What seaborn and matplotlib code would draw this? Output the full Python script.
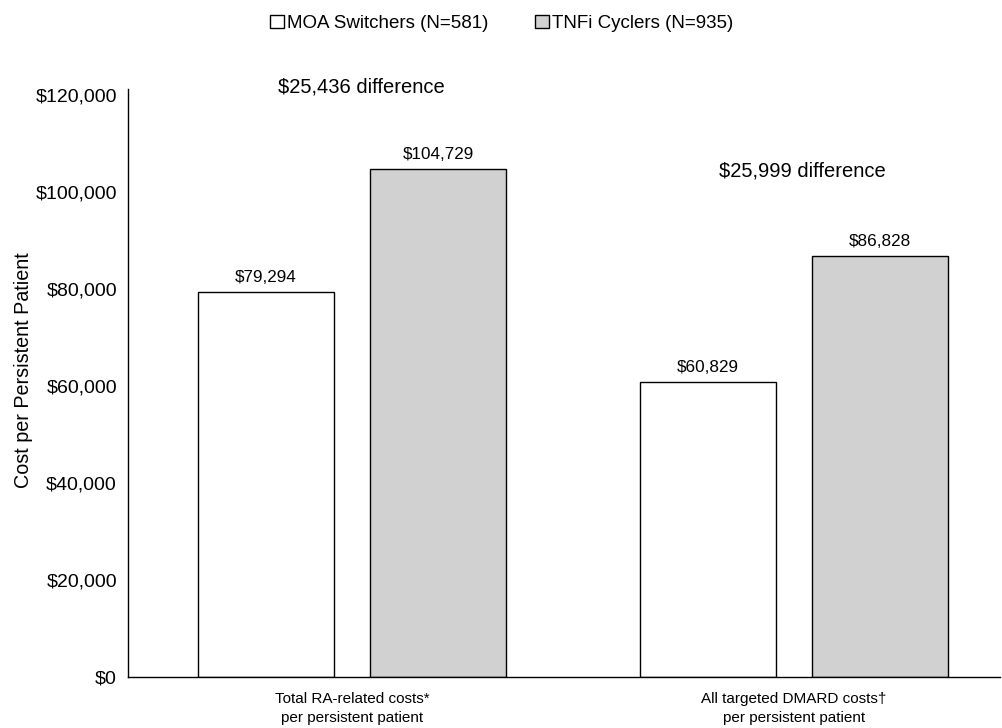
import seaborn as sns
import matplotlib.pyplot as plt
import pandas as pd
from matplotlib.patches import Patch
from matplotlib.ticker import FuncFormatter

categories = ["Total RA-related costs*\nper persistent patient",
              "All targeted DMARD costs\u2020\nper persistent patient"]
groups = ["MOA Switchers (N=581)", "TNFi Cyclers (N=935)"]
moa_costs = [79294, 60829]
tnfi_costs = [104729, 86828]
diff_labels = ["$25,436 difference", "$25,999 difference"]
diff_y = [121650, 104300]

df = pd.DataFrame({
    "category": categories * 2,
    "group": [groups[0]] * 2 + [groups[1]] * 2,
    "cost": moa_costs + tnfi_costs,
})

sns.set_style("white")
plt.rcParams["font.family"] = ["Liberation Sans", "DejaVu Sans"]
plt.rcParams["text.color"] = "black"
plt.rcParams["xtick.color"] = "black"
plt.rcParams["ytick.color"] = "black"
plt.rcParams["axes.labelcolor"] = "black"

colors = ["white", "#d1d1d1"]
fig = plt.figure(figsize=(10.03, 7.28), dpi=100)
ax = fig.add_axes([0.1276, 0.0701, 0.8694, 0.8077])

sns.barplot(data=df, x="category", y="cost", hue="group", palette=colors,
            width=0.78, gap=0.21, edgecolor="black", linewidth=1.0,
            legend=False, ax=ax)

for cont in ax.containers:
    ax.bar_label(cont, labels=[f"${v:,.0f}" for v in cont.datavalues],
                 padding=5, fontsize=12.3)

for i, (txt, yv) in enumerate(zip(diff_labels, diff_y)):
    ax.text(i + 0.02, yv, txt, ha="center", va="center", fontsize=14.5)

ax.set_xlim(-0.507, 0.466 + 1)
ax.set_ylim(0, 121237)
ax.set_yticks(range(0, 120001, 20000))
ax.yaxis.set_major_formatter(FuncFormatter(lambda v, p: f"${v:,.0f}"))
ax.tick_params(axis="y", labelsize=14, length=0, pad=8)
ax.tick_params(axis="x", labelsize=11, length=0, pad=11)
for lbl in ax.get_xticklabels():
    lbl.set_linespacing(1.4)
ax.set_xlabel("")
ax.set_ylabel("Cost per Persistent Patient", fontsize=14.2)
ax.yaxis.set_label_coords(-0.109, 0.522)
for s in ["top", "right"]:
    ax.spines[s].set_visible(False)
for s in ["left", "bottom"]:
    ax.spines[s].set_color("black")
    ax.spines[s].set_linewidth(1.0)

handles = [Patch(facecolor=c, edgecolor="black", linewidth=1.0) for c in colors]
fig.legend(handles, groups, loc="center", bbox_to_anchor=(0.5, 0.968),
           ncol=2, frameon=False, fontsize=13.5, handlelength=0.75,
           handleheight=0.75, handletextpad=0.15, columnspacing=2.5)

fig.savefig("out.png", dpi=100)
